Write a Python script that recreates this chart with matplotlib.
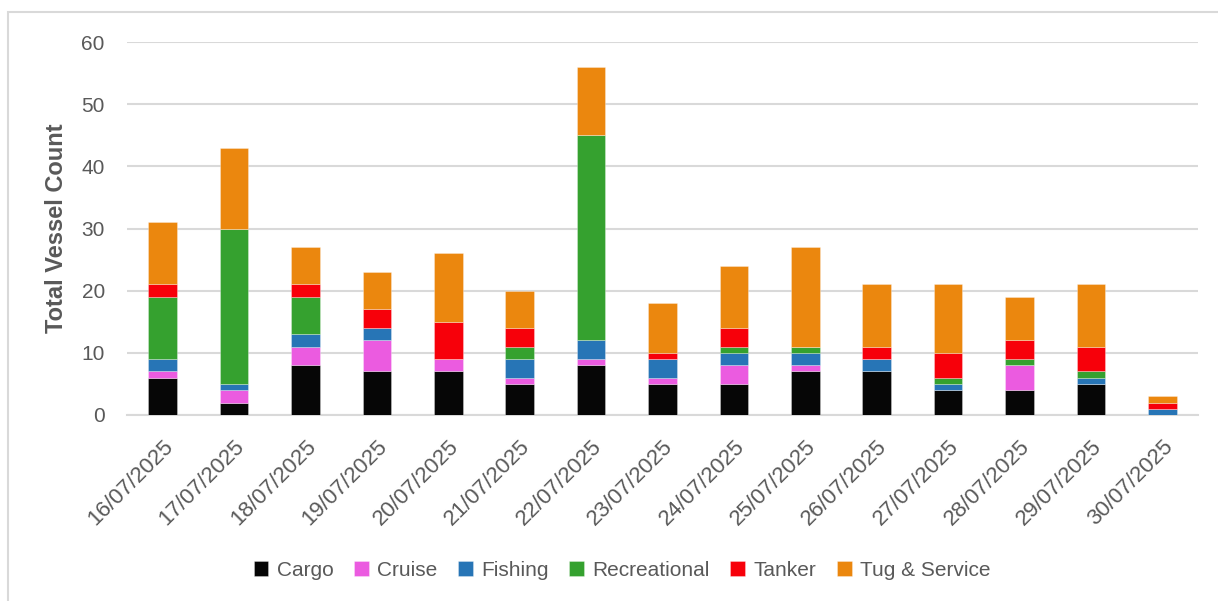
import numpy as np
import matplotlib.pyplot as plt
from matplotlib.patches import Rectangle

plt.rcParams['font.family'] = ['Liberation Sans', 'DejaVu Sans']

dates = ['16/07/2025', '17/07/2025', '18/07/2025', '19/07/2025', '20/07/2025',
         '21/07/2025', '22/07/2025', '23/07/2025', '24/07/2025', '25/07/2025',
         '26/07/2025', '27/07/2025', '28/07/2025', '29/07/2025', '30/07/2025']
cargo        = [6, 2, 8, 7, 7, 5, 8, 5, 5, 7, 7, 4, 4, 5, 0]
cruise       = [1, 2, 3, 5, 2, 1, 1, 1, 3, 1, 0, 0, 4, 0, 0]
fishing      = [2, 1, 2, 2, 0, 3, 3, 3, 2, 2, 2, 1, 0, 1, 1]
recreational = [10, 25, 6, 0, 0, 2, 33, 0, 1, 1, 0, 1, 1, 1, 0]
tanker       = [2, 0, 2, 3, 6, 3, 0, 1, 3, 0, 2, 4, 3, 4, 1]
tug_service  = [10, 13, 6, 6, 11, 6, 11, 8, 10, 16, 10, 11, 7, 10, 1]

series = [('Cargo', cargo, '#060606'),
          ('Cruise', cruise, '#EB5BE0'),
          ('Fishing', fishing, '#2775B6'),
          ('Recreational', recreational, '#35A12F'),
          ('Tanker', tanker, '#F7000A'),
          ('Tug & Service', tug_service, '#EB870E')]

text_col = '#595959'
fig = plt.figure(figsize=(12.18, 6.01), dpi=100)
ax = fig.add_axes([127/1218, 1 - 415/601, (1198 - 127)/1218, (415 - 42)/601])

# chart frame
fig.patches.append(Rectangle((8/1218, -0.05), 1.1, 1 - 12/601 + 0.05,
                             transform=fig.transFigure, fill=False,
                             edgecolor='#D9D9D9', linewidth=1.5))

x = np.arange(len(dates))
bottom = np.zeros(len(dates))
for name, vals, col in series:
    vals = np.array(vals)
    ax.bar(x, vals, width=0.4, bottom=bottom, color=col, label=name,
           edgecolor=(1, 1, 1, 0.35), linewidth=0.6, zorder=3)
    bottom += vals

ax.set_xlim(-0.5, len(dates) - 0.5)
ax.set_ylim(0, 60)
ax.set_yticks(range(0, 61, 10))
ax.grid(axis='y', color='#D9D9D9', linewidth=1.5, zorder=0)
for s in ['top', 'right', 'left']:
    ax.spines[s].set_visible(False)
ax.spines['bottom'].set_color('#D9D9D9')
ax.spines['bottom'].set_linewidth(1.5)
ax.tick_params(axis='y', length=0, labelsize=15, colors=text_col, pad=16)
ax.set_xticks(x)
ax.set_xticklabels(dates, rotation=45, ha='right', rotation_mode='anchor')
ax.tick_params(axis='x', length=0, labelsize=16, colors=text_col, pad=15)
ax.set_ylabel('Total Vessel Count', fontsize=17, fontweight='bold',
              color=text_col, labelpad=10)

fig.legend(loc='center', bbox_to_anchor=(622/1218, 1 - 570/601), ncol=6,
           frameon=False, fontsize=15, labelcolor=text_col, handlelength=0.7,
           handleheight=0.7, handletextpad=0.4, columnspacing=1.0)

fig.savefig('out.png', dpi=100)
